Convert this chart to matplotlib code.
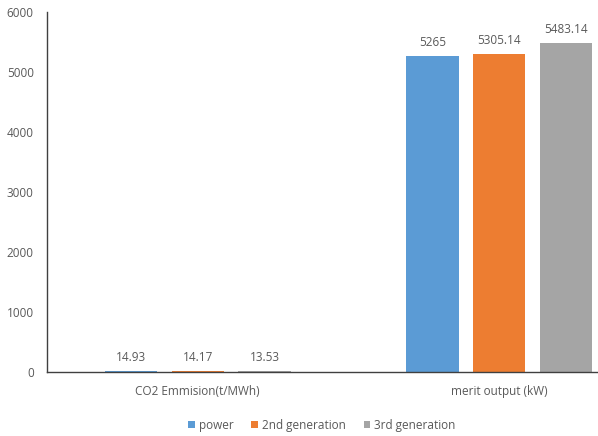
import numpy as np
import matplotlib
matplotlib.use("Agg")
import matplotlib.pyplot as plt

categories = ["CO2 Emmision(t/MWh)", "merit output (kW)"]
series_names = ["power", "2nd generation", "3rd generation"]
power = [14.93, 5265]
second_gen = [14.17, 5305.14]
third_gen = [13.53, 5483.14]
value_labels = [["14.93", "5265"], ["14.17", "5305.14"], ["13.53", "5483.14"]]
y_ticks = [0, 1000, 2000, 3000, 4000, 5000, 6000]

colors = ["#5B9BD5", "#ED7D31", "#A5A5A5"]
text_color = "#595959"
fs = 8.5
plt.rcParams["font.family"] = ["Open Sans", "DejaVu Sans"]

fig = plt.figure(figsize=(5.98, 4.36), dpi=100)
ax = fig.add_axes([47 / 598, 64 / 436, 603 / 598, 360 / 436])

x = np.arange(len(categories))
bar_w = 0.174
stride = 0.2217
all_series = [power, second_gen, third_gen]
for i, (vals, name, col) in enumerate(zip(all_series, series_names, colors)):
    pos = x + (i - 1) * stride
    ax.bar(pos, vals, width=bar_w, color=col, label=name, zorder=2)
    for p, v, lab in zip(pos, vals, value_labels[i]):
        ax.annotate(lab, (p, v), xytext=(0, 5), textcoords="offset points",
                    ha="center", va="bottom", fontsize=fs, color=text_color)

ax.set_xlim(-0.5, 1.5)
ax.set_ylim(0, 6000)
ax.set_yticks(y_ticks)
ax.set_yticklabels([str(t) for t in y_ticks], fontsize=fs, color=text_color)
ax.set_xticks(x)
ax.set_xticklabels(categories, fontsize=fs, color=text_color)
ax.tick_params(axis="both", length=0)
ax.tick_params(axis="y", pad=9.5)
ax.tick_params(axis="x", pad=9.5)

for side in ["top", "right"]:
    ax.spines[side].set_visible(False)
for side in ["left", "bottom"]:
    ax.spines[side].set_color("#404040")
    ax.spines[side].set_linewidth(1.0)

leg = fig.legend(loc="center", bbox_to_anchor=(322 / 598, 1 - 425 / 436),
                 ncol=3, frameon=False, fontsize=fs, handlelength=0.55,
                 handleheight=0.55, handletextpad=0.35, columnspacing=1.5)
for t in leg.get_texts():
    t.set_color(text_color)

fig.savefig("out.png", dpi=100)
